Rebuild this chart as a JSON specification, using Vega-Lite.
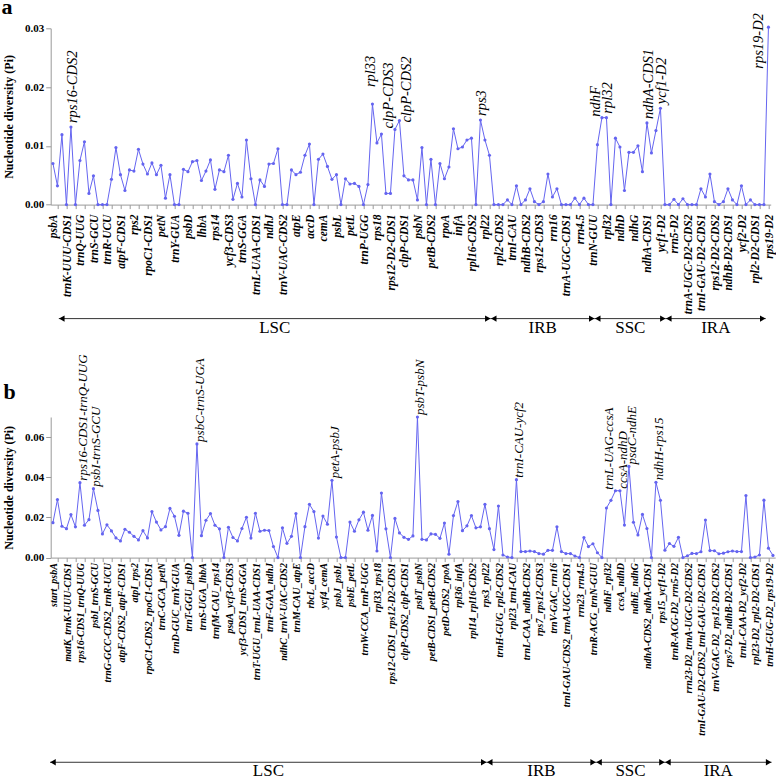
{
"$schema":"https://vega.github.io/schema/vega-lite/v6.json",
"padding":{"left":0.7,"top":-4.7,"right":0,"bottom":0},
"background":"white",
"config":{"font":"Liberation Serif, Times New Roman, Times, serif","view":{"stroke":null},"axis":{"grid":false,"domainColor":"#9a9a9a","tickColor":"#9a9a9a","labelColor":"#000000","titleColor":"#000000","labelFont":"Liberation Serif, Times New Roman, Times, serif","titleFont":"Liberation Serif, Times New Roman, Times, serif"},"text":{"font":"Liberation Serif, Times New Roman, Times, serif"}},
"datasets":{
"a":[
{"i":1,"pi":0.0070,"label":"psbA"},{"i":2,"pi":0.0032},{"i":3,"pi":0.0119},{"i":4,"pi":0,"label":"trnK-UUU-CDS1"},{"i":5,"pi":0.0132,"note":"rps16-CDS2"},{"i":6,"pi":0},
{"i":7,"pi":0.0075,"label":"trnQ-UUG"},{"i":8,"pi":0.0107},{"i":9,"pi":0.0019},{"i":10,"pi":0.0049,"label":"trnS-GCU"},{"i":11,"pi":0},{"i":12,"pi":0},
{"i":13,"pi":0,"label":"trnR-UCU"},{"i":14,"pi":0.0043},{"i":15,"pi":0.0097},{"i":16,"pi":0.0051,"label":"atpF-CDS1"},{"i":17,"pi":0.0024},{"i":18,"pi":0.0059},
{"i":19,"pi":0.0057,"label":"rps2"},{"i":20,"pi":0.0094},{"i":21,"pi":0.0069},{"i":22,"pi":0.0052,"label":"rpoC1-CDS1"},{"i":23,"pi":0.0071},{"i":24,"pi":0.0051},
{"i":25,"pi":0.0067,"label":"petN"},{"i":26,"pi":0.0011},{"i":27,"pi":0.0051},{"i":28,"pi":0,"label":"trnY-GUA"},{"i":29,"pi":0},{"i":30,"pi":0.0060},
{"i":31,"pi":0.0056,"label":"psbD"},{"i":32,"pi":0.0073},{"i":33,"pi":0.0075},{"i":34,"pi":0.0041,"label":"lhbA"},{"i":35,"pi":0.0057},{"i":36,"pi":0.0076},
{"i":37,"pi":0.0026,"label":"rps14"},{"i":38,"pi":0.0059},{"i":39,"pi":0.0056},{"i":40,"pi":0.0084,"label":"ycf3-CDS3"},{"i":41,"pi":0.0009},{"i":42,"pi":0.0036},
{"i":43,"pi":0.0013,"label":"trnS-GGA"},{"i":44,"pi":0.0110},{"i":45,"pi":0.0044},{"i":46,"pi":0,"label":"trnL-UAA-CDS1"},{"i":47,"pi":0.0042},{"i":48,"pi":0.0031},
{"i":49,"pi":0.0069,"label":"ndhJ"},{"i":50,"pi":0.0070},{"i":51,"pi":0.0095},{"i":52,"pi":0,"label":"trnV-UAC-CDS2"},{"i":53,"pi":0},{"i":54,"pi":0.0059},
{"i":55,"pi":0.0051,"label":"atpE"},{"i":56,"pi":0.0055},{"i":57,"pi":0.0084},{"i":58,"pi":0.0103,"label":"accD"},{"i":59,"pi":0},{"i":60,"pi":0.0077},
{"i":61,"pi":0.0086,"label":"cemA"},{"i":62,"pi":0.0065},{"i":63,"pi":0.0043},{"i":64,"pi":0.0051,"label":"psbL"},{"i":65,"pi":0},{"i":66,"pi":0.0044},
{"i":67,"pi":0.0035,"label":"petL"},{"i":68,"pi":0.0036},{"i":69,"pi":0.0031},{"i":70,"pi":0,"label":"trnP-UGG"},{"i":71,"pi":0.0034},{"i":72,"pi":0.0171,"note":"rpl33"},
{"i":73,"pi":0.0105,"label":"rps18"},{"i":74,"pi":0.0120},{"i":75,"pi":0.0019},{"i":76,"pi":0.0019,"label":"rps12-D2-CDS1"},{"i":77,"pi":0.0128,"note":"clpP-CDS3"},{"i":78,"pi":0.0143,"note":"clpP-CDS2"},
{"i":79,"pi":0.0049,"label":"clpP-CDS1"},{"i":80,"pi":0.0042},{"i":81,"pi":0.0042},{"i":82,"pi":0.0008,"label":"psbN"},{"i":83,"pi":0.0097},{"i":84,"pi":0},
{"i":85,"pi":0.0077,"label":"petB-CDS2"},{"i":86,"pi":0},{"i":87,"pi":0.0070},{"i":88,"pi":0.0044,"label":"rpoA"},{"i":89,"pi":0.0064},{"i":90,"pi":0.0129},
{"i":91,"pi":0.0095,"label":"infA"},{"i":92,"pi":0.0098},{"i":93,"pi":0.0110},{"i":94,"pi":0.0113,"label":"rpl16-CDS2"},{"i":95,"pi":0},{"i":96,"pi":0.0144,"note":"rps3"},
{"i":97,"pi":0.0110,"label":"rpl22"},{"i":98,"pi":0.0084},{"i":99,"pi":0},{"i":100,"pi":0,"label":"rpl2-CDS2"},{"i":101,"pi":0},{"i":102,"pi":0.0008},
{"i":103,"pi":0,"label":"trnI-CAU"},{"i":104,"pi":0.0032},{"i":105,"pi":0},{"i":106,"pi":0.0008,"label":"ndhB-CDS2"},{"i":107,"pi":0.0027},{"i":108,"pi":0.0005},
{"i":109,"pi":0,"label":"rps12-CDS3"},{"i":110,"pi":0.0005},{"i":111,"pi":0.0052},{"i":112,"pi":0.0013,"label":"rrn16"},{"i":113,"pi":0.0027},{"i":114,"pi":0},
{"i":115,"pi":0,"label":"trnA-UGC-CDS1"},{"i":116,"pi":0},{"i":117,"pi":0.0011},{"i":118,"pi":0,"label":"rrn4.5"},{"i":119,"pi":0.0011},{"i":120,"pi":0},
{"i":121,"pi":0,"label":"trnN-GUU"},{"i":122,"pi":0.0102},{"i":123,"pi":0.0148,"note":"ndhF"},{"i":124,"pi":0.0148,"label":"rpl32","note":"rpl32"},{"i":125,"pi":0},{"i":126,"pi":0.0113},
{"i":127,"pi":0.0098,"label":"ndhD"},{"i":128,"pi":0.0024},{"i":129,"pi":0.0089},{"i":130,"pi":0.0089,"label":"ndhG"},{"i":131,"pi":0.0100},{"i":132,"pi":0.0056},
{"i":133,"pi":0.0139,"label":"ndhA-CDS1","note":"ndhA-CDS1"},{"i":134,"pi":0.0088},{"i":135,"pi":0.0126},{"i":136,"pi":0.0164,"label":"ycf1-D2","note":"ycf1-D2"},{"i":137,"pi":0},{"i":138,"pi":0},
{"i":139,"pi":0.0009,"label":"rrn5-D2"},{"i":140,"pi":0},{"i":141,"pi":0.0010},{"i":142,"pi":0,"label":"trnA-UGC-D2-CDS2"},{"i":143,"pi":0},{"i":144,"pi":0},
{"i":145,"pi":0.0027,"label":"trnI-GAU-D2-CDS1"},{"i":146,"pi":0.0013},{"i":147,"pi":0.0052},{"i":148,"pi":0.0005,"label":"rps12-D2-CDS2"},{"i":149,"pi":0},{"i":150,"pi":0.0005},
{"i":151,"pi":0.0027,"label":"ndhB-D2-CDS1"},{"i":152,"pi":0.0008},{"i":153,"pi":0},{"i":154,"pi":0.0032,"label":"ycf2-D2"},{"i":155,"pi":0},{"i":156,"pi":0.0008},
{"i":157,"pi":0,"label":"rpl2-D2-CDS1"},{"i":158,"pi":0},{"i":159,"pi":0},{"i":160,"pi":0.0302,"label":"rps19-D2","note":"rps19-D2"}
],
"b":[
{"i":1,"pi":0.0174,"label":"start_psbA"},{"i":2,"pi":0.0289},{"i":3,"pi":0.0156},{"i":4,"pi":0.0144,"label":"matK_trnK-UUU-CDS1"},{"i":5,"pi":0.0214},{"i":6,"pi":0.0153},
{"i":7,"pi":0.0373,"label":"rps16-CDS1_trnQ-UUG","note":"rps16-CDS1-trnQ-UUG"},{"i":8,"pi":0.0161},{"i":9,"pi":0.0189},{"i":10,"pi":0.0343,"label":"psbI_trnS-GCU","note":"psbI-trnS-GCU"},{"i":11,"pi":0.0235},{"i":12,"pi":0.0118},
{"i":13,"pi":0.0163,"label":"trnG-GCC-CDS2_trnR-UCU"},{"i":14,"pi":0.0133},{"i":15,"pi":0.0098},{"i":16,"pi":0.0083,"label":"atpF-CDS2_atpF-CDS1"},{"i":17,"pi":0.0141},{"i":18,"pi":0.0126},
{"i":19,"pi":0.0106,"label":"atpI_rps2"},{"i":20,"pi":0.0088},{"i":21,"pi":0.0134},{"i":22,"pi":0.0098,"label":"rpoC1-CDS2_rpoC1-CDS1"},{"i":23,"pi":0.0229},{"i":24,"pi":0.0177},
{"i":25,"pi":0.0138,"label":"trnC-GCA_petN"},{"i":26,"pi":0.0154},{"i":27,"pi":0.0245},{"i":28,"pi":0.0206,"label":"trnD-GUC_trnY-GUA"},{"i":29,"pi":0.0111},{"i":30,"pi":0.0231},
{"i":31,"pi":0.0221,"label":"trnT-GGU_psbD"},{"i":32,"pi":0},{"i":33,"pi":0.0566,"note":"psbC-trnS-UGA"},{"i":34,"pi":0.0109,"label":"trnS-UGA_lhbA"},{"i":35,"pi":0.0186},{"i":36,"pi":0.0219},
{"i":37,"pi":0.0161,"label":"trnfM-CAU_rps14"},{"i":38,"pi":0.0143},{"i":39,"pi":0},{"i":40,"pi":0.0151,"label":"psaA_ycf3-CDS3"},{"i":41,"pi":0.0100},{"i":42,"pi":0.0083},
{"i":43,"pi":0.0145,"label":"ycf3-CDS1_trnS-GGA"},{"i":44,"pi":0.0201},{"i":45,"pi":0.0097},{"i":46,"pi":0.0221,"label":"trnT-UGU_trnL-UAA-CDS1"},{"i":47,"pi":0.0131},{"i":48,"pi":0.0136},
{"i":49,"pi":0.0135,"label":"trnF-GAA_ndhJ"},{"i":50,"pi":0.0055},{"i":51,"pi":0},{"i":52,"pi":0.0148,"label":"ndhC_trnV-UAC-CDS2"},{"i":53,"pi":0.0071},{"i":54,"pi":0.0106},
{"i":55,"pi":0.0219,"label":"trnM-CAU_atpE"},{"i":56,"pi":0},{"i":57,"pi":0.0154},{"i":58,"pi":0.0265,"label":"rbcL_accD"},{"i":59,"pi":0.0229},{"i":60,"pi":0.0097},
{"i":61,"pi":0.0207,"label":"ycf4_cemA"},{"i":62,"pi":0.0166},{"i":63,"pi":0.0385,"note":"petA-psbJ"},{"i":64,"pi":0.0102,"label":"psbJ_psbL"},{"i":65,"pi":0},{"i":66,"pi":0},
{"i":67,"pi":0.0177,"label":"psbE_petL"},{"i":68,"pi":0.0131},{"i":69,"pi":0.0188},{"i":70,"pi":0.0226,"label":"trnW-CCA_trnP-UGG"},{"i":71,"pi":0.0136},{"i":72,"pi":0.0210},
{"i":73,"pi":0.0033,"label":"rpl33_rps18"},{"i":74,"pi":0.0321},{"i":75,"pi":0.0143},{"i":76,"pi":0,"label":"rps12-CDS1_rps12-D2-CDS1"},{"i":77,"pi":0.0195},{"i":78,"pi":0.0123},
{"i":79,"pi":0.0101,"label":"clpP-CDS2_clpP-CDS1"},{"i":80,"pi":0.0091},{"i":81,"pi":0.0108},{"i":82,"pi":0.0700,"label":"psbT_psbN","note":"psbT-psbN"},{"i":83,"pi":0.0091},{"i":84,"pi":0.0088},
{"i":85,"pi":0.0118,"label":"petB-CDS1_petB-CDS2"},{"i":86,"pi":0.0116},{"i":87,"pi":0.0096},{"i":88,"pi":0.0172,"label":"petD-CDS2_rpoA"},{"i":89,"pi":0.0017},{"i":90,"pi":0.0209},
{"i":91,"pi":0.0279,"label":"rpl36_infA"},{"i":92,"pi":0.0134},{"i":93,"pi":0.0158},{"i":94,"pi":0.0209,"label":"rpl14_rpl16-CDS2"},{"i":95,"pi":0.0148},{"i":96,"pi":0.0153},
{"i":97,"pi":0.0265,"label":"rps3_rpl22"},{"i":98,"pi":0.0144},{"i":99,"pi":0.0040},{"i":100,"pi":0.0257,"label":"trnH-GUG_rpl2-CDS2"},{"i":101,"pi":0.0013},{"i":102,"pi":0.0003},
{"i":103,"pi":0,"label":"rpl23_trnI-CAU"},{"i":104,"pi":0.0388,"note":"trnI-CAU-ycf2"},{"i":105,"pi":0.0030},{"i":106,"pi":0.0030,"label":"trnL-CAA_ndhB-CDS2"},{"i":107,"pi":0.0033},{"i":108,"pi":0.0030},
{"i":109,"pi":0.0020,"label":"rps7_rps12-CDS3"},{"i":110,"pi":0.0017},{"i":111,"pi":0.0036},{"i":112,"pi":0.0036,"label":"trnV-GAC_rrn16"},{"i":113,"pi":0.0153},{"i":114,"pi":0.0030},
{"i":115,"pi":0.0020,"label":"trnI-GAU-CDS2_trnA-UGC-CDS1"},{"i":116,"pi":0.0020},{"i":117,"pi":0.0008},{"i":118,"pi":0,"label":"rrn23_rrn4.5"},{"i":119,"pi":0.0100},{"i":120,"pi":0.0055},
{"i":121,"pi":0.0069,"label":"trnR-ACG_trnN-GUU"},{"i":122,"pi":0.0024},{"i":123,"pi":0},{"i":124,"pi":0.0247,"label":"ndhF_rpl32"},{"i":125,"pi":0.0285},{"i":126,"pi":0.0333,"note":"trnL-UAG-ccsA"},
{"i":127,"pi":0.0333,"label":"ccsA_ndhD","note":"ccsA-ndhD"},{"i":128,"pi":0.0162},{"i":129,"pi":0.0454,"note":"psaC-ndhE"},{"i":130,"pi":0.0176,"label":"ndhE_ndhG"},{"i":131,"pi":0.0113},{"i":132,"pi":0.0215},
{"i":133,"pi":0.0145,"label":"ndhA-CDS2_ndhA-CDS1"},{"i":134,"pi":0},{"i":135,"pi":0.0375,"note":"ndhH-rps15"},{"i":136,"pi":0.0285,"label":"rps15_ycf1-D2"},{"i":137,"pi":0.0037},{"i":138,"pi":0.0070},
{"i":139,"pi":0.0056,"label":"trnR-ACG-D2_rrn5-D2"},{"i":140,"pi":0.0101},{"i":141,"pi":0},{"i":142,"pi":0.0009,"label":"rrn23-D2_trnA-UGC-D2-CDS2"},{"i":143,"pi":0.0021},{"i":144,"pi":0.0020},
{"i":145,"pi":0.0029,"label":"trnI-GAU-D2-CDS2_trnI-GAU-D2-CDS1"},{"i":146,"pi":0.0187},{"i":147,"pi":0.0035},{"i":148,"pi":0.0034,"label":"trnV-GAC-D2_rps12-D2-CDS2"},{"i":149,"pi":0.0019},{"i":150,"pi":0.0022},
{"i":151,"pi":0.0029,"label":"rps7-D2_ndhB-D2-CDS1"},{"i":152,"pi":0.0033},{"i":153,"pi":0.0030},{"i":154,"pi":0.0030,"label":"trnL-CAA-D2_ycf2-D2"},{"i":155,"pi":0.0309},{"i":156,"pi":0},
{"i":157,"pi":0.0003,"label":"rpl23-D2_rpl2-D2-CDS1"},{"i":158,"pi":0.0013},{"i":159,"pi":0.0286},{"i":160,"pi":0.0047,"label":"trnH-GUG-D2_rps19-D2"},{"i":161,"pi":0.0011}
],
"regA":[{"region":"LSC","start":2.3,"end":98.3},{"region":"IRB","start":98.3,"end":121.4},{"region":"SSC","start":121.4,"end":137.2},{"region":"IRA","start":137.2,"end":159.4}],
"regB":[{"region":"LSC","start":0.35,"end":97.4},{"region":"IRB","start":97.4,"end":121.7},{"region":"SSC","start":121.7,"end":137},{"region":"IRA","start":137,"end":160.7}],
"panels":[{"tag":"a"},{"tag":"b"}]
},
"spacing":211.7,
"bounds":"flush",
"vconcat":[
{
"width":720,"height":176.3,
"layer":[
{"data":{"name":"a"},"mark":{"type":"line","color":"#6464f0","strokeWidth":1},
"encoding":{"x":{"field":"i","type":"quantitative","scale":{"domain":[0.5,160.5],"nice":false,"zero":false},"axis":{"title":null,"labels":false,"tickCount":80,"tickSize":4}},
"y":{"field":"pi","type":"quantitative","scale":{"domain":[0,0.03],"nice":false},"axis":{"values":[0,0.01,0.02,0.03],"format":".2f","title":"Nucleotide diversity (Pi)","titleFontSize":12,"titleFontWeight":"bold","titlePadding":9,"labelFontSize":11,"labelFontWeight":"bold","tickSize":5,"labelPadding":2}}}},
{"data":{"name":"a"},"mark":{"type":"point","filled":true,"size":10,"color":"#6464f0","opacity":1},
"encoding":{"x":{"field":"i","type":"quantitative","scale":{"domain":[0.5,160.5],"nice":false,"zero":false}},"y":{"field":"pi","type":"quantitative","scale":{"domain":[0,0.03],"nice":false}}}},
{"data":{"name":"panels"},"transform":[{"filter":"datum.tag == 'a'"}],"mark":{"type":"text","align":"left","baseline":"alphabetic","fontSize":22,"fontWeight":"bold","color":"#000000"},
"encoding":{"x":{"datum":-10.46,"scale":{"domain":[0.5,160.5],"nice":false,"zero":false}},"y":{"datum":0.03245,"scale":{"domain":[0,0.03],"nice":false}},"text":{"field":"tag"}}},
{"data":{"name":"a"},"transform":[{"filter":"datum.label"}],"mark":{"type":"text","angle":270,"align":"right","baseline":"middle","dx":-10,"dy":1.5,"fontSize":11.5,"fontStyle":"italic","fontWeight":"bold","color":"#000000"},
"encoding":{"x":{"field":"i","type":"quantitative","scale":{"domain":[0.5,160.5],"nice":false,"zero":false}},"y":{"datum":0,"scale":{"domain":[0,0.03],"nice":false}},"text":{"field":"label"}}},
{"data":{"name":"a"},"transform":[{"filter":"datum.note && indexof(['clpP-CDS3','ndhF','clpP-CDS2','rps19-D2','rpl33'], datum.note) < 0"}],"mark":{"type":"text","angle":270,"align":"left","baseline":"middle","dx":4,"dy":2,"fontSize":14.5,"fontStyle":"italic","color":"#000000"},
"encoding":{"x":{"field":"i","type":"quantitative","scale":{"domain":[0.5,160.5],"nice":false,"zero":false}},"y":{"field":"pi","type":"quantitative","scale":{"domain":[0,0.03],"nice":false}},"text":{"field":"note"}}},
{"data":{"name":"a"},"transform":[{"filter":"indexof(['clpP-CDS3','ndhF'], datum.note) >= 0"}],"mark":{"type":"text","angle":270,"align":"left","baseline":"middle","dx":1,"dy":-6,"fontSize":14.5,"fontStyle":"italic","color":"#000000"},
"encoding":{"x":{"field":"i","type":"quantitative","scale":{"domain":[0.5,160.5],"nice":false,"zero":false}},"y":{"field":"pi","type":"quantitative","scale":{"domain":[0,0.03],"nice":false}},"text":{"field":"note"}}},
{"data":{"name":"a"},"transform":[{"filter":"datum.note == 'clpP-CDS2'"}],"mark":{"type":"text","angle":270,"align":"left","baseline":"middle","dx":-2,"dy":8,"fontSize":14.5,"fontStyle":"italic","color":"#000000"},
"encoding":{"x":{"field":"i","type":"quantitative","scale":{"domain":[0.5,160.5],"nice":false,"zero":false}},"y":{"field":"pi","type":"quantitative","scale":{"domain":[0,0.03],"nice":false}},"text":{"field":"note"}}},
{"data":{"name":"a"},"transform":[{"filter":"datum.note == 'rpl33'"}],"mark":{"type":"text","angle":270,"align":"left","baseline":"middle","dx":17,"dy":-1,"fontSize":14.5,"fontStyle":"italic","color":"#000000"},
"encoding":{"x":{"field":"i","type":"quantitative","scale":{"domain":[0.5,160.5],"nice":false,"zero":false}},"y":{"field":"pi","type":"quantitative","scale":{"domain":[0,0.03],"nice":false}},"text":{"field":"note"}}},
{"data":{"name":"a"},"transform":[{"filter":"datum.note == 'rps19-D2'"}],"mark":{"type":"text","angle":270,"align":"right","baseline":"middle","dx":14,"dy":-9,"fontSize":14.5,"fontStyle":"italic","color":"#000000"},
"encoding":{"x":{"field":"i","type":"quantitative","scale":{"domain":[0.5,160.5],"nice":false,"zero":false}},"y":{"field":"pi","type":"quantitative","scale":{"domain":[0,0.03],"nice":false}},"text":{"field":"note"}}},
{"data":{"name":"regA"},"mark":{"type":"rule","color":"#333333","strokeWidth":1},
"encoding":{"x":{"field":"start","type":"quantitative","scale":{"domain":[0.5,160.5],"nice":false,"zero":false}},"x2":{"field":"end"},"y":{"datum":-0.0194,"scale":{"domain":[0,0.03],"nice":false}}}},
{"data":{"name":"regA"},"mark":{"type":"point","shape":"triangle-left","filled":true,"size":40,"color":"#000000","opacity":1,"xOffset":3},
"encoding":{"x":{"field":"start","type":"quantitative","scale":{"domain":[0.5,160.5],"nice":false,"zero":false}},"y":{"datum":-0.0194,"scale":{"domain":[0,0.03],"nice":false}}}},
{"data":{"name":"regA"},"mark":{"type":"point","shape":"triangle-right","filled":true,"size":40,"color":"#000000","opacity":1,"xOffset":-3},
"encoding":{"x":{"field":"end","type":"quantitative","scale":{"domain":[0.5,160.5],"nice":false,"zero":false}},"y":{"datum":-0.0194,"scale":{"domain":[0,0.03],"nice":false}}}},
{"data":{"name":"regA"},"transform":[{"fold":["start","end"],"as":["edge","pos"]}],"mark":{"type":"text","baseline":"top","dy":1,"fontSize":17,"color":"#000000"},
"encoding":{"x":{"aggregate":"mean","field":"pos","type":"quantitative","scale":{"domain":[0.5,160.5],"nice":false,"zero":false}},"y":{"datum":-0.0194,"scale":{"domain":[0,0.03],"nice":false}},"text":{"field":"region","type":"nominal"}}}
]
},
{
"width":724.5,"height":140.6,
"layer":[
{"data":{"name":"b"},"mark":{"type":"line","color":"#6464f0","strokeWidth":1},
"encoding":{"x":{"field":"i","type":"quantitative","scale":{"domain":[0.5,161.5],"nice":false,"zero":false},"axis":{"title":null,"labels":false,"tickCount":80,"tickSize":4}},
"y":{"field":"pi","type":"quantitative","scale":{"domain":[0,0.07],"nice":false},"axis":{"values":[0,0.01,0.02,0.03,0.04,0.05,0.06,0.07],"format":".2f","title":"Nucleotide diversity (Pi)","titleFontSize":12,"titleFontWeight":"bold","titlePadding":9,"labelFontSize":11,"labelFontWeight":"bold","tickSize":5,"labelPadding":2}}}},
{"data":{"name":"b"},"mark":{"type":"point","filled":true,"size":10,"color":"#6464f0","opacity":1},
"encoding":{"x":{"field":"i","type":"quantitative","scale":{"domain":[0.5,161.5],"nice":false,"zero":false}},"y":{"field":"pi","type":"quantitative","scale":{"domain":[0,0.07],"nice":false}}}},
{"data":{"name":"panels"},"transform":[{"filter":"datum.tag == 'b'"}],"mark":{"type":"text","align":"left","baseline":"alphabetic","fontSize":22,"fontWeight":"bold","color":"#000000"},
"encoding":{"x":{"datum":-10.0,"scale":{"domain":[0.5,161.5],"nice":false,"zero":false}},"y":{"datum":0.0788,"scale":{"domain":[0,0.07],"nice":false}},"text":{"field":"tag"}}},
{"data":{"name":"b"},"transform":[{"filter":"datum.label"}],"mark":{"type":"text","angle":270,"align":"right","baseline":"middle","dx":-5.5,"dy":1.5,"fontSize":10,"fontStyle":"italic","fontWeight":"bold","color":"#000000"},
"encoding":{"x":{"field":"i","type":"quantitative","scale":{"domain":[0.5,161.5],"nice":false,"zero":false}},"y":{"datum":0,"scale":{"domain":[0,0.07],"nice":false}},"text":{"field":"label"}}},
{"data":{"name":"b"},"transform":[{"filter":"datum.note && datum.note != 'trnL-UAG-ccsA'"}],"mark":{"type":"text","angle":270,"align":"left","baseline":"middle","dx":2,"dy":3,"fontSize":13,"fontStyle":"italic","color":"#000000"},
"encoding":{"x":{"field":"i","type":"quantitative","scale":{"domain":[0.5,161.5],"nice":false,"zero":false}},"y":{"field":"pi","type":"quantitative","scale":{"domain":[0,0.07],"nice":false}},"text":{"field":"note"}}},
{"data":{"name":"b"},"transform":[{"filter":"datum.note == 'trnL-UAG-ccsA'"}],"mark":{"type":"text","angle":270,"align":"left","baseline":"middle","dx":1,"dy":-6.5,"fontSize":13,"fontStyle":"italic","color":"#000000"},
"encoding":{"x":{"field":"i","type":"quantitative","scale":{"domain":[0.5,161.5],"nice":false,"zero":false}},"y":{"field":"pi","type":"quantitative","scale":{"domain":[0,0.07],"nice":false}},"text":{"field":"note"}}},
{"data":{"name":"regB"},"mark":{"type":"rule","color":"#333333","strokeWidth":1},
"encoding":{"x":{"field":"start","type":"quantitative","scale":{"domain":[0.5,161.5],"nice":false,"zero":false}},"x2":{"field":"end"},"y":{"datum":-0.1019,"scale":{"domain":[0,0.07],"nice":false}}}},
{"data":{"name":"regB"},"mark":{"type":"point","shape":"triangle-left","filled":true,"size":40,"color":"#000000","opacity":1,"xOffset":3},
"encoding":{"x":{"field":"start","type":"quantitative","scale":{"domain":[0.5,161.5],"nice":false,"zero":false}},"y":{"datum":-0.1019,"scale":{"domain":[0,0.07],"nice":false}}}},
{"data":{"name":"regB"},"mark":{"type":"point","shape":"triangle-right","filled":true,"size":40,"color":"#000000","opacity":1,"xOffset":-3},
"encoding":{"x":{"field":"end","type":"quantitative","scale":{"domain":[0.5,161.5],"nice":false,"zero":false}},"y":{"datum":-0.1019,"scale":{"domain":[0,0.07],"nice":false}}}},
{"data":{"name":"regB"},"transform":[{"fold":["start","end"],"as":["edge","pos"]}],"mark":{"type":"text","baseline":"top","dy":1,"fontSize":17,"color":"#000000"},
"encoding":{"x":{"aggregate":"mean","field":"pos","type":"quantitative","scale":{"domain":[0.5,161.5],"nice":false,"zero":false}},"y":{"datum":-0.1019,"scale":{"domain":[0,0.07],"nice":false}},"text":{"field":"region","type":"nominal"}}}
]
}
]
}
